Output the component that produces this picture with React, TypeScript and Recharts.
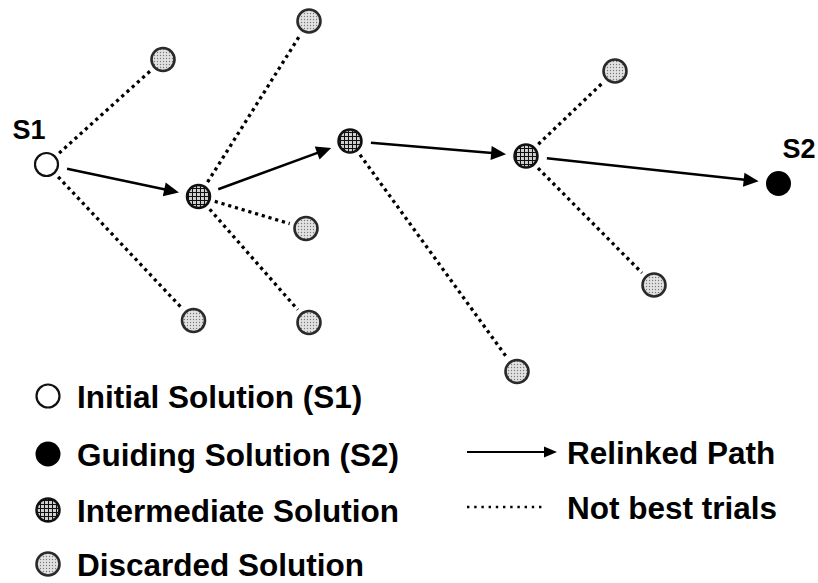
import { ScatterChart, Scatter, XAxis, YAxis, ReferenceLine, Legend } from "recharts";

const FONT = '"Liberation Sans", Arial, Helvetica, sans-serif';
const W = 818;
const H = 583;

// node positions (diagram units = pixels, y down)
const nodes = [
  { id: "S1", x: 46.5, y: 164.5, kind: "initial", label: "S1" },
  { id: "I1", x: 198.5, y: 196.5, kind: "intermediate" },
  { id: "I2", x: 350, y: 141, kind: "intermediate" },
  { id: "I3", x: 526, y: 156, kind: "intermediate" },
  { id: "S2", x: 778.5, y: 183.5, kind: "guiding", label: "S2" },
  { id: "D1", x: 163, y: 59.5, kind: "discarded" },
  { id: "D2", x: 309, y: 21, kind: "discarded" },
  { id: "D3", x: 306, y: 228.5, kind: "discarded" },
  { id: "D4", x: 193.5, y: 320.5, kind: "discarded" },
  { id: "D5", x: 309, y: 322.5, kind: "discarded" },
  { id: "D6", x: 517, y: 371.5, kind: "discarded" },
  { id: "D7", x: 615, y: 71, kind: "discarded" },
  { id: "D8", x: 654, y: 285, kind: "discarded" },
];

const relinkedPath = ["S1", "I1", "I2", "I3", "S2"];

const trials = [
  ["S1", "D1"],
  ["S1", "D4"],
  ["I1", "D2"],
  ["I1", "D3"],
  ["I1", "D5"],
  ["I2", "D6"],
  ["I3", "D7"],
  ["I3", "D8"],
];

const nodeKinds = ["initial", "intermediate", "guiding", "discarded"];

const solutionLegend = [
  { kind: "initial", label: "Initial Solution (S1)" },
  { kind: "guiding", label: "Guiding Solution (S2)" },
  { kind: "intermediate", label: "Intermediate Solution" },
  { kind: "discarded", label: "Discarded Solution" },
];

const edgeLegend = [
  { kind: "relinked", label: "Relinked Path" },
  { kind: "trial", label: "Not best trials" },
];

const byId = (id: string) => nodes.find((n) => n.id === id)!;

function Patterns() {
  return (
    <defs>
      <pattern id="hatch" patternUnits="userSpaceOnUse" width={4} height={4}>
        <rect width={4} height={4} fill="#cfcfcf" />
        <path d="M0 0.5H4M0.5 0V4" stroke="#111" strokeWidth={1} />
      </pattern>
      <pattern id="stipple" patternUnits="userSpaceOnUse" width={3} height={3}>
        <rect width={3} height={3} fill="#e2e2e2" />
        <circle cx={1.5} cy={1.5} r={0.7} fill="#7a7a7a" />
      </pattern>
    </defs>
  );
}

function Glyph({ kind, cx, cy }: { kind: string; cx: number; cy: number }) {
  if (kind === "initial")
    return <circle cx={cx} cy={cy} r={11.5} fill="#fff" stroke="#111" strokeWidth={2.2} />;
  if (kind === "guiding") return <circle cx={cx} cy={cy} r={12.5} fill="#000" />;
  if (kind === "intermediate")
    return (
      <g>
        <Patterns />
        <circle cx={cx} cy={cy} r={11.5} fill="url(#hatch)" stroke="#111" strokeWidth={2.5} />
      </g>
    );
  return (
    <g>
      <Patterns />
      <circle cx={cx} cy={cy} r={11.5} fill="url(#stipple)" stroke="#2a2a2a" strokeWidth={2.6} />
    </g>
  );
}

function NodeShape(props: any) {
  const { cx, cy, payload } = props;
  const left = payload.kind === "initial";
  return (
    <g>
      <Glyph kind={payload.kind} cx={cx} cy={cy} />
      {payload.label && (
        <text
          x={left ? cx - 1 : cx + 4}
          y={cy - 26}
          textAnchor={left ? "end" : "start"}
          fontFamily={FONT}
          fontWeight="bold"
          fontSize={27}
          fill="#000"
        >
          {payload.label}
        </text>
      )}
    </g>
  );
}

function Arrow({ x1, y1, x2, y2, width = 2.5, head = 15, half = 7 }: any) {
  const dx = x2 - x1;
  const dy = y2 - y1;
  const len = Math.hypot(dx, dy);
  const ux = dx / len;
  const uy = dy / len;
  const bx = x2 - ux * head;
  const by = y2 - uy * head;
  return (
    <g>
      <line x1={x1} y1={y1} x2={bx + ux} y2={by + uy} stroke="#000" strokeWidth={width} />
      <polygon
        points={`${x2},${y2} ${bx - uy * half},${by + ux * half} ${bx + uy * half},${by - ux * half}`}
        fill="#000"
      />
    </g>
  );
}

function shorten(p: any, a: number, b: number) {
  const dx = p.x2 - p.x1;
  const dy = p.y2 - p.y1;
  const len = Math.hypot(dx, dy);
  const ux = dx / len;
  const uy = dy / len;
  return { x1: p.x1 + ux * a, y1: p.y1 + uy * a, x2: p.x2 - ux * b, y2: p.y2 - uy * b };
}

function PathShape(props: any) {
  return <Arrow {...shorten(props, 21, 20)} />;
}

function TrialShape(props: any) {
  const s = shorten(props, 17, 17);
  return <line {...s} stroke="#000" strokeWidth={3.3} strokeDasharray="3.2 3.8" />;
}

function LegendArt() {
  const rows = [396, 454, 510, 564];
  const edgeRows = [452, 507];
  return (
    <svg width={W} height={H} style={{ position: "absolute", left: 0, top: 0 }}>
      {solutionLegend.map((item, i) => (
        <g key={item.kind}>
          <Glyph kind={item.kind} cx={48} cy={rows[i]} />
          <text x={77} y={rows[i] + 11.5} fontFamily={FONT} fontWeight="bold" fontSize={31.5} fill="#000">
            {item.label}
          </text>
        </g>
      ))}
      {edgeLegend.map((item, i) => (
        <g key={item.kind}>
          {item.kind === "relinked" ? (
            <Arrow x1={467} y1={edgeRows[i]} x2={557} y2={edgeRows[i]} width={2} head={13} half={5.5} />
          ) : (
            <line x1={467} y1={edgeRows[i]} x2={546} y2={edgeRows[i]} stroke="#000" strokeWidth={2.6} strokeDasharray="2.4 4.8" />
          )}
          <text x={567} y={edgeRows[i] + 11.5} fontFamily={FONT} fontWeight="bold" fontSize={31.5} fill="#000">
            {item.label}
          </text>
        </g>
      ))}
    </svg>
  );
}

export default function App() {
  const pathEdges = relinkedPath.slice(1).map((id, i) => [relinkedPath[i], id]);
  return (
    <div style={{ position: "absolute", left: 0, top: 0, width: W, height: H, background: "#fff" }}>
      <ScatterChart width={W} height={H} margin={{ top: 0, right: 0, bottom: 0, left: 0 }}>
        <XAxis type="number" dataKey="x" domain={[0, W]} hide />
        <YAxis type="number" dataKey="y" domain={[0, H]} reversed hide />
        {trials.map(([a, b]) => (
          <ReferenceLine
            key={a + b}
            segment={[
              { x: byId(a).x, y: byId(a).y },
              { x: byId(b).x, y: byId(b).y },
            ]}
            shape={(p: any) => <TrialShape {...p} />}
          />
        ))}
        {pathEdges.map(([a, b]) => (
          <ReferenceLine
            key={a + b}
            segment={[
              { x: byId(a).x, y: byId(a).y },
              { x: byId(b).x, y: byId(b).y },
            ]}
            shape={(p: any) => <PathShape {...p} />}
          />
        ))}
        {nodeKinds.map((k) => (
          <Scatter
            key={k}
            name={k}
            data={nodes.filter((n) => n.kind === k)}
            shape={(p: any) => <NodeShape {...p} />}
            isAnimationActive={false}
          />
        ))}
        <Legend
          layout="vertical"
          align="center"
          verticalAlign="middle"
          wrapperStyle={{ left: 0, top: 0, width: W, height: H, pointerEvents: "none" }}
          content={() => <LegendArt />}
        />
      </ScatterChart>
    </div>
  );
}
